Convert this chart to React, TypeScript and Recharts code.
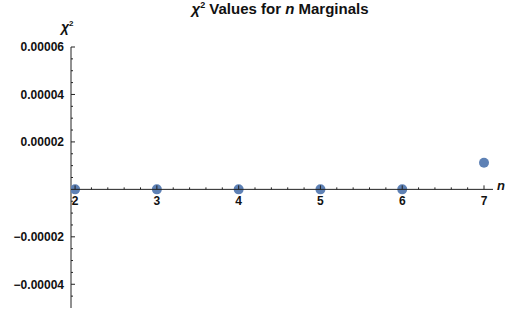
import { ScatterChart, Scatter, XAxis, YAxis, ReferenceLine, ReferenceDot } from "recharts";

const nValues = [2, 3, 4, 5, 6, 7];
const chiSquared = [0, 0, 0, 0, 0, 0.0000112];

const xMajorTicks = [2, 3, 4, 5, 6, 7];
const xMinorTicks = [
  2.2, 2.4, 2.6, 2.8, 3.2, 3.4, 3.6, 3.8, 4.2, 4.4, 4.6, 4.8,
  5.2, 5.4, 5.6, 5.8, 6.2, 6.4, 6.6, 6.8,
];
const yMajorTicks = [-0.00004, -0.00002, 0.00002, 0.00004, 0.00006];
const yMinorTicks = [
  -0.000045, -0.000035, -0.00003, -0.000025, -0.000015, -0.00001, -0.000005,
  0.000005, 0.00001, 0.000015, 0.000025, 0.00003, 0.000035, 0.000045, 0.00005, 0.000055,
];

const X_MIN = 1.95;
const X_MAX = 7.11;
const AXIS = "#222";
const DOT = "#5E81B5";
const FONT = "'Liberation Sans', Arial, sans-serif";

const data = nValues.map((n, i) => ({ n, chi: chiSquared[i] }));

const fmtY = (v: number) => v.toFixed(5).replace("-", "\u2212");

const xTick = (len: number, label?: string) => (p: any) => (
  <g>
    <line x1={p.cx} y1={p.cy} x2={p.cx} y2={p.cy - len} stroke={AXIS} strokeWidth={1} />
    {label && (
      <text x={p.cx} y={p.cy + 16} textAnchor="middle" fontSize={12} fontWeight="bold" fontFamily={FONT} fill="#111">
        {label}
      </text>
    )}
  </g>
);

const yTick = (len: number) => (p: any) => (
  <line x1={p.cx} y1={p.cy} x2={p.cx + len} y2={p.cy} stroke={AXIS} strokeWidth={1} />
);

export default function App() {
  return (
    <div style={{ position: "absolute", left: 0, top: 0, width: 507, height: 313, background: "#fff", fontFamily: FONT }}>
      <div style={{ position: "absolute", left: 0, width: 560, top: -5, textAlign: "center", fontSize: 15, fontWeight: "bold", color: "#111", lineHeight: "20px" }}>
        <i>χ</i><sup style={{ fontSize: 9 }}>2</sup> Values for <i>n</i> Marginals
      </div>
      <div style={{ position: "absolute", left: 61, top: 15, fontSize: 14, fontWeight: "bold", color: "#111", lineHeight: "18px" }}>
        <i>χ</i><sup style={{ fontSize: 8 }}>2</sup>
      </div>
      <div style={{ position: "absolute", left: 497, top: 178, fontSize: 13, fontWeight: "bold", fontStyle: "italic", color: "#111" }}>
        n
      </div>
      <ScatterChart width={507} height={313} margin={{ top: 47, right: 14, bottom: 5, left: 0 }}>
        <XAxis type="number" dataKey="n" domain={[X_MIN, X_MAX]} allowDataOverflow hide />
        <YAxis
          type="number"
          dataKey="chi"
          domain={[-0.00005, 0.00006]}
          allowDataOverflow
          ticks={yMajorTicks}
          tickFormatter={fmtY}
          width={71}
          axisLine={{ stroke: AXIS }}
          tickLine={false}
          tickSize={0}
          tickMargin={7}
          tick={{ fontSize: 12, fontWeight: "bold", fill: "#111", fontFamily: FONT }}
        />
        <Scatter
          data={data}
          isAnimationActive={false}
          shape={(p: any) => <circle cx={p.cx} cy={p.cy} r={5} fill={DOT} />}
        />
        <ReferenceLine y={0} stroke={AXIS} strokeWidth={1} zIndex={1000} />
        {xMajorTicks.map((t) => (
          <ReferenceDot key={"xM" + t} x={t} y={0} shape={xTick(4, String(t))} zIndex={1000} />
        ))}
        {xMinorTicks.map((t) => (
          <ReferenceDot key={"xm" + t} x={t} y={0} shape={xTick(2)} zIndex={1000} />
        ))}
        {yMajorTicks.map((t) => (
          <ReferenceDot key={"yM" + t} x={X_MIN} y={t} shape={yTick(4)} zIndex={1000} />
        ))}
        {yMinorTicks.map((t) => (
          <ReferenceDot key={"ym" + t} x={X_MIN} y={t} shape={yTick(2)} zIndex={1000} />
        ))}
      </ScatterChart>
    </div>
  );
}
